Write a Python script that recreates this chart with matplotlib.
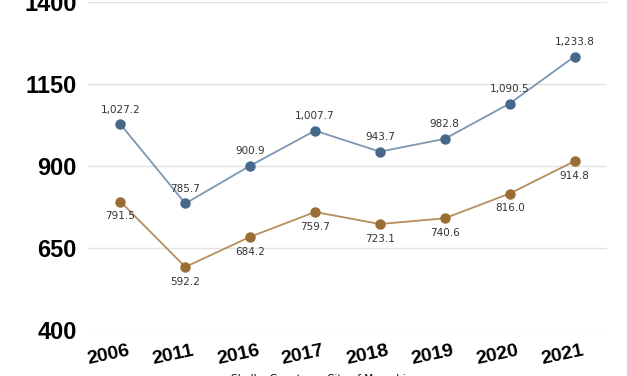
import matplotlib
matplotlib.use("Agg")
import matplotlib.pyplot as plt
from matplotlib.transforms import ScaledTranslation

years = ["2006", "2011", "2016", "2017", "2018", "2019", "2020", "2021"]
memphis = [1027.2, 785.7, 900.9, 1007.7, 943.7, 982.8, 1090.5, 1233.8]
shelby = [791.5, 592.2, 684.2, 759.7, 723.1, 740.6, 816.0, 914.8]
yticks = [400, 650, 900, 1150, 1400]

blue_m, blue_l = "#46688a", "#7b97b1"
brown_m, brown_l = "#9a6d34", "#b68e5c"

fig = plt.figure(figsize=(6.27, 3.76), dpi=100)
ax = fig.add_axes([88/627, 46/376, 519/627, 328/376])
x = list(range(len(years)))

ax.plot(x, memphis, color=blue_l, lw=1.3, marker="o", ms=6.5,
        mfc=blue_m, mec=blue_m, label="City of Memphis", zorder=3)
ax.plot(x, shelby, color=brown_l, lw=1.3, marker="o", ms=6.5,
        mfc=brown_m, mec=brown_m, label="Shelby County", zorder=3)

def fmt(v):
    return f"{v:,.1f}"

for xi, v in zip(x, memphis):
    ax.annotate(fmt(v), (xi, v), xytext=(0, 7), textcoords="offset points",
                ha="center", va="bottom", fontsize=7.5, color="#333333")
for xi, v in zip(x, shelby):
    ax.annotate(fmt(v), (xi, v), xytext=(0, -7), textcoords="offset points",
                ha="center", va="top", fontsize=7.5, color="#333333")

ax.set_xlim(-0.5, len(years) - 0.5)
ax.set_ylim(400, 1400)
ax.set_yticks(yticks)
ax.set_yticklabels([str(t) for t in yticks], fontsize=17, fontweight="bold",
                   family="Liberation Sans")
ax.set_xticks(x)
ax.set_xticklabels(years, fontsize=14, fontweight="bold", family="Liberation Sans",
                   rotation=12)
ax.tick_params(axis="both", length=0)
ax.tick_params(axis="y", pad=8)
ax.tick_params(axis="x", pad=9)
shift = ScaledTranslation(-12/100, 0, fig.dpi_scale_trans)
for lab in ax.get_xticklabels():
    lab.set_transform(lab.get_transform() + shift)
ax.grid(axis="y", color="#e3e3e3", lw=1)
ax.set_axisbelow(True)
for s in ax.spines.values():
    s.set_visible(False)

h, l = ax.get_legend_handles_labels()
fig.legend([h[1], h[0]], [l[1], l[0]], loc="upper center",
           bbox_to_anchor=(0.505, 11/376), ncol=2, frameon=False, fontsize=7.5,
           handlelength=0.5, markerscale=0.5, columnspacing=1.0, handletextpad=0.4)

fig.savefig("out.png", dpi=100)
